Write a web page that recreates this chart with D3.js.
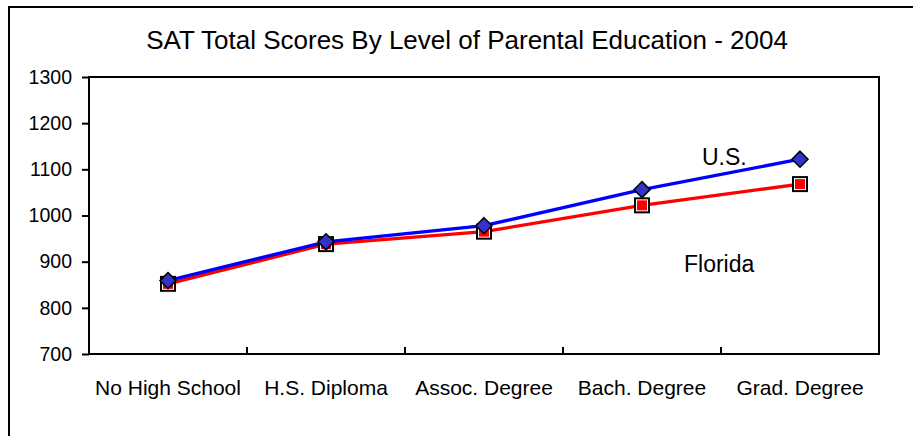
<!DOCTYPE html>
<html>
<head>
<meta charset="utf-8">
<script src="https://cdn.jsdelivr.net/npm/d3@7"></script>
<style>
  body { margin: 0; background: #fff; }
  text { font-family: Arial, "Liberation Sans", sans-serif; fill: #000; }
</style>
</head>
<body>
<script>
var categories = ["No High School", "H.S. Diploma", "Assoc. Degree", "Bach. Degree", "Grad. Degree"];
var usScores = [859, 943, 978, 1056, 1122];
var floridaScores = [852, 938, 965, 1022, 1068];
var yTicks = [700, 800, 900, 1000, 1100, 1200, 1300];

var svgWidth = 913;
var svgHeight = 436;
var margin = {top: 77, right: 34, bottom: 82, left: 89};
var width = svgWidth - margin.left - margin.right;
var height = svgHeight - margin.top - margin.bottom;

var root = d3.select("body").append("svg")
    .attr("width", svgWidth)
    .attr("height", svgHeight);

// outer chart frame (runs off the right and bottom edges)
root.append("rect")
    .attr("x", 9)
    .attr("y", 7)
    .attr("width", 940)
    .attr("height", 460)
    .attr("fill", "none")
    .attr("stroke", "#000")
    .attr("stroke-width", 2);

root.append("text")
    .text("SAT Total Scores By Level of Parental Education - 2004")
    .attr("x", 467)
    .attr("y", 49)
    .attr("text-anchor", "middle")
    .style("font-size", "26px");

var svg = root.append("g")
    .attr("transform", "translate(" + margin.left + "," + margin.top + ")");

var xScale = d3.scaleBand()
    .domain(categories)
    .range([0, width]);

var yScale = d3.scaleLinear()
    .domain([700, 1300])
    .range([height, 0]);

// plot frame
svg.append("rect")
    .attr("width", width)
    .attr("height", height)
    .attr("fill", "none")
    .attr("stroke", "#000")
    .attr("stroke-width", 2);

var yAxis = svg.append("g")
    .call(d3.axisLeft(yScale).tickValues(yTicks).tickSize(7).tickPadding(10).tickFormat(d3.format("d")));
yAxis.select(".domain").remove();
yAxis.selectAll("line").attr("stroke", "#000").attr("stroke-width", 2);
yAxis.selectAll("text").style("font-size", "19.5px").attr("fill", "#000");

// x ticks sit between categories, pointing inward
svg.append("g")
    .selectAll("line")
    .data(categories.slice(1))
    .enter().append("line")
        .attr("x1", function(d) { return xScale(d); })
        .attr("x2", function(d) { return xScale(d); })
        .attr("y1", height)
        .attr("y2", height - 7)
        .attr("stroke", "#000")
        .attr("stroke-width", 2);

svg.append("g")
    .selectAll("text")
    .data(categories)
    .enter().append("text")
        .text(function(d) { return d; })
        .attr("x", function(d) { return xScale(d) + xScale.bandwidth() / 2; })
        .attr("y", height + 41)
        .attr("text-anchor", "middle")
        .style("font-size", "21px");

var cx = function(d, i) { return xScale(categories[i]) + xScale.bandwidth() / 2; };

var line = d3.line()
    .x(cx)
    .y(function(d) { return yScale(d); });

svg.append("path")
    .datum(floridaScores)
    .attr("d", line)
    .attr("fill", "none")
    .attr("stroke", "#ff0000")
    .attr("stroke-width", 3.3);

svg.append("path")
    .datum(usScores)
    .attr("d", line)
    .attr("fill", "none")
    .attr("stroke", "#0000ff")
    .attr("stroke-width", 3.3);

var flMarks = svg.append("g").selectAll("g")
    .data(floridaScores)
    .enter().append("g")
        .attr("transform", function(d, i) { return "translate(" + cx(d, i) + "," + yScale(d) + ")"; });
flMarks.append("rect")
    .attr("x", -7).attr("y", -7)
    .attr("width", 14).attr("height", 14)
    .attr("fill", "#fff")
    .attr("stroke", "#000")
    .attr("stroke-width", 2);
flMarks.append("rect")
    .attr("x", -5).attr("y", -5)
    .attr("width", 10).attr("height", 10)
    .attr("fill", "#ff0000");

svg.append("g").selectAll("path")
    .data(usScores)
    .enter().append("path")
        .attr("d", "M0,-8L8,0L0,8L-8,0Z")
        .attr("transform", function(d, i) { return "translate(" + cx(d, i) + "," + yScale(d) + ")"; })
        .attr("fill", "#3333cc")
        .attr("stroke", "#000")
        .attr("stroke-width", 1.5);

root.append("text")
    .text("U.S.")
    .attr("x", 702)
    .attr("y", 165)
    .style("font-size", "23px");

root.append("text")
    .text("Florida")
    .attr("x", 684)
    .attr("y", 272)
    .style("font-size", "23px");
</script>
</body>
</html>
